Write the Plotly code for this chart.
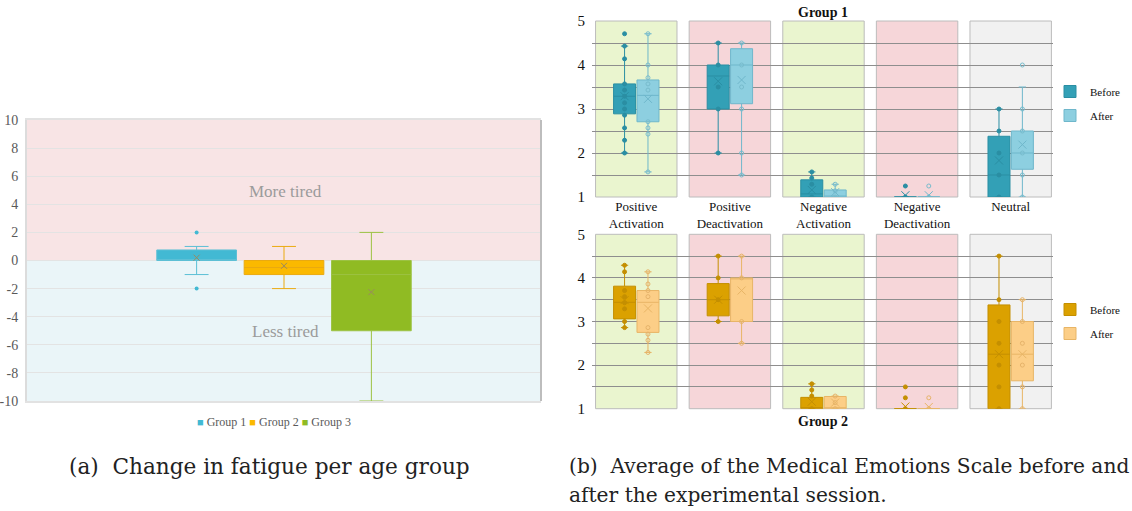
import plotly.graph_objects as go

W, H = 1132, 511
SERIF = "Liberation Serif, Times New Roman, serif"
CAPTION_FONT = "DejaVu Serif, serif"


def px_x(p):
    return p / W


def px_y(p):
    return 1 - p / H


# ---------------- (a) change in fatigue per age group ----------------
fatigue_groups = ["Group 1", "Group 2", "Group 3"]
fatigue_fill = ["#42b9d3", "#fbb900", "#90bb23"]
fatigue_edge = ["#5cbfd5", "#eaaa10", "#9cc243"]
fatigue_q1 = [0.0, -1.0, -5.0]
fatigue_median = [0.0, -0.5, -1.0]
fatigue_q3 = [0.75, 0.0, 0.0]
fatigue_lower = [-1.0, -2.0, -10.0]
fatigue_upper = [1.0, 1.0, 2.0]
fatigue_mean = [0.2, -0.38, -2.25]
fatigue_outliers = [[2.0, -2.0], [], []]
fatigue_ticks = [-10, -8, -6, -4, -2, 0, 2, 4, 6, 8, 10]

# ---------------- (b) Medical Emotions Scale ----------------
mes_categories = ["Positive<br>Activation", "Positive<br>Deactivation",
                  "Negative<br>Activation", "Negative<br>Deactivation", "Neutral"]
mes_band_colors = ["#eaf5cf", "#f6d6d9", "#eaf5cf", "#f6d6d9", "#f1f1f1"]
mes_ticks = [1, 2, 3, 4, 5]

# Group 1, before the session
g1_before_q1 = [2.89, 3.0, 1.0, 1.0, 1.0]
g1_before_median = [3.29, 3.75, 1.07, 1.0, 1.5]
g1_before_q3 = [3.57, 4.0, 1.39, 1.0, 2.38]
g1_before_lower = [2.0, 2.0, 1.0, 1.0, 1.0]
g1_before_upper = [4.43, 4.5, 1.57, 1.0, 3.0]
g1_before_mean = [3.29, 3.63, 1.16, 1.04, 1.83]
g1_before_points = [[4.71, 4.43, 4.14, 3.57, 3.43, 3.29, 3.14, 3.0, 2.86, 2.57, 2.29, 2.0],
                    [4.5, 4.0, 3.5, 3.0, 2.0],
                    [1.57, 1.43, 1.29, 1.0],
                    [1.25, 1.0],
                    [3.0, 2.5, 2.0, 1.5, 1.0]]

# Group 1, after the session
g1_after_q1 = [2.71, 3.12, 1.0, 1.0, 1.63]
g1_after_median = [3.31, 4.0, 1.0, 1.0, 2.0]
g1_after_q3 = [3.66, 4.37, 1.16, 1.0, 2.5]
g1_after_lower = [1.57, 1.5, 1.0, 1.0, 1.0]
g1_after_upper = [4.71, 4.5, 1.29, 1.0, 3.5]
g1_after_mean = [3.23, 3.66, 1.11, 1.04, 2.19]
g1_after_points = [[4.71, 4.0, 3.71, 3.57, 3.43, 2.71, 2.57, 2.43, 1.57],
                   [4.5, 4.0, 3.5, 3.0, 2.0, 1.5],
                   [1.29, 1.14, 1.0],
                   [1.25, 1.0],
                   [4.0, 3.0, 2.5, 2.0, 1.5, 1.0]]

# Group 2, before the session
g2_before_q1 = [3.06, 3.13, 1.0, 1.0, 1.0]
g2_before_median = [3.44, 3.5, 1.0, 1.0, 2.25]
g2_before_q3 = [3.81, 3.87, 1.26, 1.0, 3.38]
g2_before_lower = [2.86, 3.0, 1.0, 1.0, 1.0]
g2_before_upper = [4.29, 4.5, 1.57, 1.0, 4.5]
g2_before_mean = [3.49, 3.5, 1.16, 1.05, 2.25]
g2_before_points = [[4.29, 4.14, 3.71, 3.57, 3.43, 3.29, 3.0, 2.86],
                    [4.5, 4.0, 3.5, 3.0],
                    [1.57, 1.43, 1.29, 1.0],
                    [1.5, 1.25, 1.0],
                    [4.5, 3.5, 3.0, 2.5, 2.0, 1.5, 1.0]]

# Group 2, after the session
g2_after_q1 = [2.75, 3.0, 1.0, 1.0, 1.64]
g2_after_median = [3.44, 4.0, 1.0, 1.0, 2.25]
g2_after_q3 = [3.71, 4.0, 1.28, 1.0, 3.0]
g2_after_lower = [2.29, 2.5, 1.0, 1.0, 1.0]
g2_after_upper = [4.14, 4.5, 1.29, 1.0, 3.5]
g2_after_mean = [3.3, 3.71, 1.14, 1.04, 2.25]
g2_after_points = [[4.14, 3.86, 3.71, 3.57, 2.86, 2.71, 2.57, 2.29],
                   [4.5, 4.0, 3.0, 2.5],
                   [1.29, 1.14, 1.0],
                   [1.25, 1.0],
                   [3.5, 3.0, 2.5, 2.0, 1.5, 1.0]]

fig = go.Figure()

# ---------- panel (a) ----------
group_spacing = 0.17
fatigue_pos = [(i - 1) * group_spacing for i in range(len(fatigue_groups))]
for i, name in enumerate(fatigue_groups):
    fig.add_trace(go.Box(
        x=[fatigue_pos[i]], q1=[fatigue_q1[i]], median=[fatigue_median[i]],
        q3=[fatigue_q3[i]], lowerfence=[fatigue_lower[i]], upperfence=[fatigue_upper[i]],
        width=0.155, whiskerwidth=0.3, boxpoints=False,
        fillcolor=fatigue_fill[i], line=dict(color=fatigue_edge[i], width=1),
        name=name, showlegend=False, hoverinfo="skip", xaxis="x", yaxis="y"))
    fig.add_trace(go.Scatter(
        x=[fatigue_pos[i]], y=[fatigue_mean[i]], mode="markers",
        marker=dict(symbol="x-thin-open", size=6, color="#9a8a60",
                    line=dict(width=1, color="rgba(90,90,90,0.45)")),
        showlegend=False, hoverinfo="skip", xaxis="x", yaxis="y"))
    if fatigue_outliers[i]:
        fig.add_trace(go.Scatter(
            x=[fatigue_pos[i]] * len(fatigue_outliers[i]), y=fatigue_outliers[i],
            mode="markers", marker=dict(symbol="circle", size=4, color=fatigue_fill[i]),
            showlegend=False, hoverinfo="skip", xaxis="x", yaxis="y"))

# ---------- panel (b) ----------
offset = 0.125
box_w = 0.235
mes_groups = [
    dict(xa="x2", ya="y2", legend="legend2",
         phases=[
             ("Before", -offset, "#33a0b6", "#2a8ea3", "#2a8ea3", "circle",
              g1_before_q1, g1_before_median, g1_before_q3, g1_before_lower,
              g1_before_upper, g1_before_mean, g1_before_points),
             ("After", offset, "#8dcfe0", "#6fb7cb", "#78bccd", "circle-open",
              g1_after_q1, g1_after_median, g1_after_q3, g1_after_lower,
              g1_after_upper, g1_after_mean, g1_after_points)]),
    dict(xa="x3", ya="y3", legend="legend3",
         phases=[
             ("Before", -offset, "#dba100", "#c48f00", "#c48f00", "circle",
              g2_before_q1, g2_before_median, g2_before_q3, g2_before_lower,
              g2_before_upper, g2_before_mean, g2_before_points),
             ("After", offset, "#fcce87", "#e8b566", "#e6b36a", "circle-open",
              g2_after_q1, g2_after_median, g2_after_q3, g2_after_lower,
              g2_after_upper, g2_after_mean, g2_after_points)]),
]

for grp in mes_groups:
    for (name, dx, fill, edge, ptcol, ptsym, q1, med, q3, lo, up, mean, pts) in grp["phases"]:
        xs = [i + dx for i in range(len(mes_categories))]
        fig.add_trace(go.Box(
            x=xs, q1=q1, median=med, q3=q3, lowerfence=lo, upperfence=up,
            width=box_w, whiskerwidth=0.33, boxpoints=False,
            fillcolor=fill, line=dict(color=edge, width=1),
            name=name, legend=grp["legend"], legendgroup=grp["legend"] + name,
            hoverinfo="skip", xaxis=grp["xa"], yaxis=grp["ya"]))
        px_list, py_list = [], []
        for i, vals in enumerate(pts):
            px_list += [xs[i]] * len(vals)
            py_list += vals
        fig.add_trace(go.Scatter(
            x=px_list, y=py_list, mode="markers",
            marker=dict(symbol=ptsym, size=4, color=ptcol, line=dict(width=1, color=ptcol)),
            showlegend=False, hoverinfo="skip", xaxis=grp["xa"], yaxis=grp["ya"]))
        fig.add_trace(go.Scatter(
            x=xs, y=mean, mode="markers",
            marker=dict(symbol="x-thin-open", size=8, color=edge, line=dict(width=1, color=edge)),
            showlegend=False, hoverinfo="skip", xaxis=grp["xa"], yaxis=grp["ya"]))

# ---------- background bands ----------
shapes = [
    dict(type="rect", xref="x domain", yref="y", x0=0, x1=1, y0=0, y1=10,
         fillcolor="#f8e4e5", line=dict(width=0), layer="below"),
    dict(type="rect", xref="x domain", yref="y", x0=0, x1=1, y0=-10, y1=0,
         fillcolor="#eaf5f8", line=dict(width=0), layer="below"),
    dict(type="line", xref="x domain", yref="y domain", x0=1, x1=1, y0=0, y1=1,
         line=dict(color="#bdbdbd", width=2), layer="above"),
]
for xa, ya in [("x2", "y2"), ("x3", "y3")]:
    for i, col in enumerate(mes_band_colors):
        shapes.append(dict(type="rect", xref=xa, yref=ya + " domain",
                           x0=i - 0.435, x1=i + 0.435, y0=0, y1=1,
                           fillcolor=col, line=dict(color="#bcbcbc", width=1),
                           layer="below"))


# ---------- text ----------
def note(text, x, y, size, color, family=SERIF, xanchor="center"):
    return dict(text=text, x=px_x(x), y=px_y(y), xref="paper", yref="paper",
                showarrow=False, xanchor=xanchor, yanchor="middle", align="left",
                font=dict(family=family, size=size, color=color))


swatch = "<span style='color:%s;font-size:11px'>■</span>"
annotations = [
    note("More tired", 285, 191, 17, "#9b9b9b"),
    note("Less tired", 285, 331, 17, "#9b9b9b"),
    note(" ".join("%s %s" % (swatch % c, g) for c, g in zip(fatigue_fill, fatigue_groups)),
         274, 422, 12, "#595959"),
    note("<b>Group 1</b>", 823, 12, 14, "#111111"),
    note("<b>Group 2</b>", 823, 421, 14, "#111111"),
    note("(a)  Change in fatigue per age group", 269, 466, 21.6, "#222222", CAPTION_FONT),
    note("(b)  Average of the Medical Emotions Scale before and", 567, 466, 20.2,
         "#222222", CAPTION_FONT, xanchor="left"),
    note("after the experimental session.", 567, 495, 20.2, "#222222", CAPTION_FONT,
         xanchor="left"),
]

mes_y = dict(range=[1, 5], tickvals=mes_ticks, showgrid=True, gridcolor="#8e8e8e",
             gridwidth=1.3, minor=dict(dtick=0.5, showgrid=True, gridcolor="#8e8e8e", gridwidth=1.3),
             zeroline=False, showline=False, ticks="", ticklabelstandoff=6, automargin=False,
             tickfont=dict(family=SERIF, size=15, color="#111111"))
mes_x_range = [-0.473, 4.452]

fig.update_layout(
    width=W, height=H, margin=dict(l=0, r=0, t=0, b=0, autoexpand=False),
    paper_bgcolor="white", plot_bgcolor="white",
    boxmode="overlay",
    xaxis=dict(domain=[px_x(27), px_x(541)], range=[-0.5, 0.5], showgrid=False,
               zeroline=False, showticklabels=False, showline=True, mirror=True,
               linecolor="#e2e2e2", linewidth=1.5, automargin=False),
    yaxis=dict(domain=[px_y(401), px_y(120)], range=[-10, 10], tickvals=fatigue_ticks,
               ticktext=[str(v) for v in fatigue_ticks],
               showgrid=True, gridcolor="#e3e3e3", gridwidth=1, zeroline=False,
               showline=True, linecolor="#dcdcdc", linewidth=2, ticks="",
               ticklabelstandoff=4, automargin=False,
               tickfont=dict(family=SERIF, size=14, color="#595959")),
    xaxis2=dict(domain=[px_x(592), px_x(1053)], range=mes_x_range,
                tickvals=list(range(len(mes_categories))), ticktext=mes_categories,
                showgrid=False, zeroline=False, showline=False, ticks="", automargin=False,
                tickfont=dict(family=SERIF, size=13, color="#111111"), anchor="y2"),
    yaxis2=dict(domain=[px_y(197), px_y(21)], anchor="x2", **mes_y),
    xaxis3=dict(domain=[px_x(592), px_x(1053)], range=mes_x_range, showgrid=False,
                zeroline=False, showline=False, showticklabels=False, anchor="y3",
                automargin=False),
    yaxis3=dict(domain=[px_y(408.7), px_y(234.3)], anchor="x3", **mes_y),
    legend2=dict(x=px_x(1050), y=px_y(77), xanchor="left", yanchor="top",
                 bgcolor="rgba(0,0,0,0)", tracegroupgap=5,
                 font=dict(family=SERIF, size=11, color="#111111")),
    legend3=dict(x=px_x(1050), y=px_y(295), xanchor="left", yanchor="top",
                 bgcolor="rgba(0,0,0,0)", tracegroupgap=5,
                 font=dict(family=SERIF, size=11, color="#111111")),
    shapes=shapes,
    annotations=annotations,
)

fig.write_html("out.html")
